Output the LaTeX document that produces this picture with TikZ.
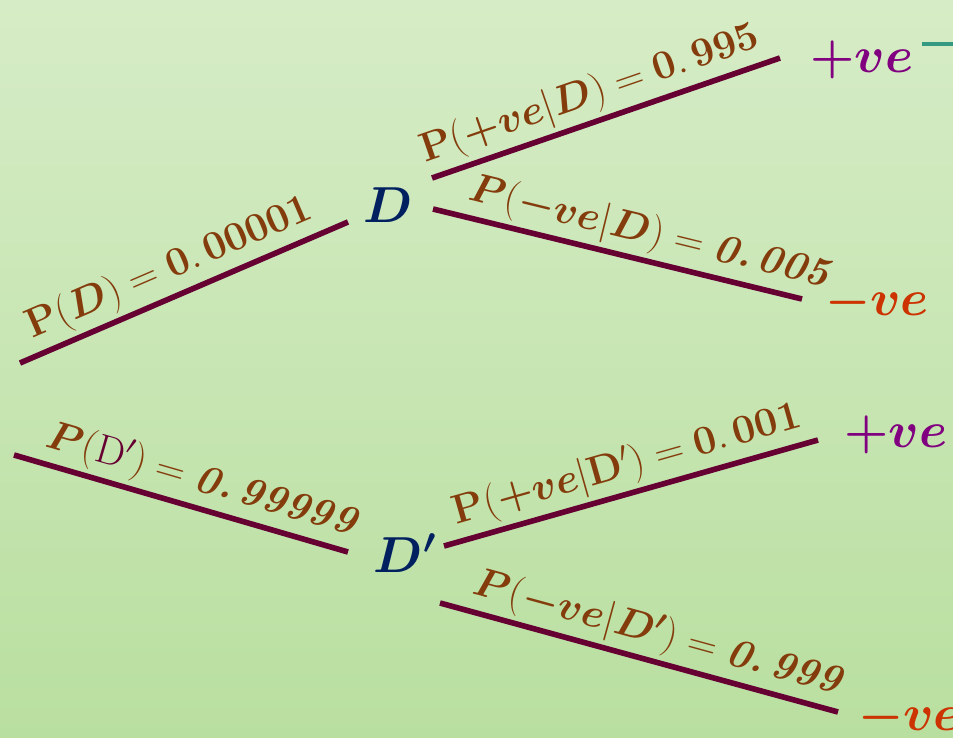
\documentclass[tikz,border=0pt]{standalone}
\usepackage{fix-cm}
\usepackage{amsmath}
\usepackage{bm}
\usepackage{xcolor}
\usepackage{tikz}

\definecolor{bgtop}{RGB}{214,236,198}
\definecolor{bgbot}{RGB}{185,223,160}
\definecolor{branchred}{RGB}{102,0,51}
\definecolor{probbrown}{RGB}{132,60,12}
\definecolor{evblue}{RGB}{0,32,96}
\definecolor{pospurple}{RGB}{128,0,128}
\definecolor{negred}{RGB}{204,51,0}
\definecolor{tealbar}{RGB}{51,153,128}

\tikzset{
  branch/.style={line width=4pt, draw=branchred},
  prob/.style={sloped, above, text=probbrown, inner sep=3pt, font=\fontsize{29}{35}\selectfont},
  event/.style={inner sep=0pt, font=\fontsize{36}{43}\selectfont},
}

\begin{document}
\begin{tikzpicture}[x=0.025cm, y=-0.025cm]
  \shade[top color=bgtop, bottom color=bgbot] (0,0) rectangle (953,737);
  \useasboundingbox (0,0) rectangle (953,737);

  % Events
  \node[event, text=evblue] (d) at (388,205) {$\bm{D}$};
  \node[event, text=evblue] (dn) at (405,553) {$\bm{D'}$};
  \node[event, text=pospurple] (pos1) at (862,60) {$\bm{+ve}$};
  \node[event, text=negred] (neg1) at (877,303) {$\bm{-ve}$};
  \node[event, text=pospurple] (pos2) at (896,435) {$\bm{+ve}$};
  \node[event, text=negred] (neg2) at (910,718) {$\bm{-ve}$};

  % Branch ends
  \coordinate (a1) at (20,363);   \coordinate (b1) at (348,222);
  \coordinate (a2) at (432,178);  \coordinate (b2) at (780,58);
  \coordinate (a3) at (433,209);  \coordinate (b3) at (802,299);
  \coordinate (a4) at (14,455);   \coordinate (b4) at (348,552);
  \coordinate (a5) at (444,546);  \coordinate (b5) at (818,440);
  \coordinate (a6) at (440,603);  \coordinate (b6) at (838,712);

  % First stage
  \draw[branch] (a1) -- node[prob, pos=0.49] {$\mathbf{P}(\bm{D}) = \mathbf{0.\,00001}$} (b1);
  \draw[branch] (a4) -- node[prob, pos=0.54] {$\bm{P}(\textcolor{branchred}{\mathrm{D}'}) = \textbf{\textit{0.\,99999}}$} (b4);

  % Second stage, given D
  \draw[branch] (a2) -- node[prob, pos=0.48] {$\mathbf{P}(\bm{+ve}|\bm{D}) = \mathbf{0.\,995}$} (b2);
  \draw[branch] (a3) -- node[prob, pos=0.57] {$\bm{P}(\bm{-ve}|\bm{D}) = \textbf{\textit{0.\,005}}$} (b3);

  % Second stage, given D'
  \draw[branch] (a5) -- node[prob, pos=0.51] {$\mathbf{P}(\bm{+ve}|\mathbf{D}') = \mathbf{0.\,001}$} (b5);
  \draw[branch] (a6) -- node[prob, pos=0.53] {$\bm{P}(\bm{-ve}|\bm{D'}) = \textbf{\textit{0.\,999}}$} (b6);

  % Bar after top outcome
  \coordinate (barend) at (960,44);
  \draw[line width=3.5pt, tealbar] (pos1.east |- barend) ++(8,0) -- (barend);
\end{tikzpicture}
\end{document}
